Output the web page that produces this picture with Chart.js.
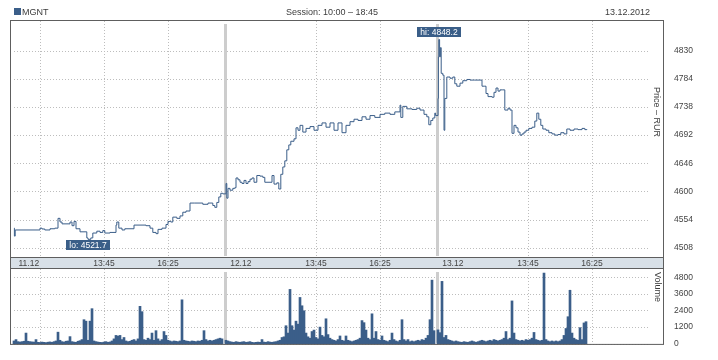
<!DOCTYPE html>
<html><head><meta charset="utf-8">
<script src="https://cdn.jsdelivr.net/npm/chart.js@4.4.1/dist/chart.umd.min.js"></script>
<style>
html,body{margin:0;padding:0;background:#fff;}
#wrap{position:relative;width:718px;height:360px;background:#fff;}
canvas{position:absolute;left:0;top:0;}
</style></head><body>
<div id="wrap"><canvas id="price" width="718" height="360"></canvas><canvas id="vol" width="718" height="360"></canvas></div>
<script>
// ---------- text ----------
const ticker = "MGNT";
const sessionText = "Session: 10:00 – 18:45";
const dateText = "13.12.2012";
const priceAxisTitle = "Price – RUR";
const volumeAxisTitle = "Volume";

// ---------- axis ticks ----------
const dayLabels = ["11.12", "12.12", "13.12"];
const timeTickLabels = ["13:45", "16:25"];
const timeTickMinutes = [225, 385];      // minutes after 10:00
const dayLabelMinute = 37;               // where the date label sits in each day
const extraGridMinute = 65;              // first-day extra grid line
const priceTicks = [4508, 4554, 4600, 4646, 4692, 4738, 4784, 4830];
const volumeTicks = [0, 1200, 2400, 3600, 4800];

// ---------- price series (minutes after 10:00, price) ----------
const day1PriceMin = [0,1,3,65,70,77,90,102,110,115,120,130,140,145,150,155,165,175,182,185,192,197,207,215,222,227,240,255,257,262,270,277,290,300,315,330,340,347,355,360,370,380,385,392,397,407,415,422,430,440,452,465,472,485,497,502,507,512,517,522];
const day1Price    = [4540,4527,4537,4540,4538.6,4537,4539,4540,4556,4550,4547,4547,4550,4544,4551,4539,4534,4534,4524,4521.7,4524,4532,4535,4533,4536,4532,4533,4545,4550,4540,4537,4539,4539,4545,4545,4544,4540,4533,4531,4538,4540,4546,4551,4550,4558,4556,4560,4566,4568,4581,4581,4581,4579,4581,4577,4574,4582,4591,4597,4596];

const day2PriceMin = [0,2,5,10,17,22,25,30,35,40,45,50,55,60,65,70,77,85,92,97,110,115,120,127,132,137,142,147,152,157,162,170,175,180,185,192,200,210,220,230,240,250,260,270,280,290,300,310,320,330,340,350,360,372,385,397,410,422,435,437,442,452,465,477,485,495,502,507,512,517,522,524];
const day2Price    = [4613,4589,4605,4602,4605,4606,4622,4619,4615,4613,4618,4613,4616,4620,4622,4615,4626,4625,4623,4615,4615,4626,4612,4614,4604,4628,4640,4650,4668,4676,4682,4686,4704,4700,4708,4697,4703,4706,4700,4708,4712,4705,4712,4700,4712,4696,4708,4714,4718,4716,4722,4718,4724,4721,4726,4728,4726,4730,4741,4721,4739,4735,4734,4736,4733,4726,4722,4709,4716,4720,4728,4724];

const day3PriceMin = [0,1,2,4,6,8,12,15,17,22,30,37,42,47,55,62,72,80,92,105,110,117,120,125,135,140,145,150,155,162,167,175,180,185,190,195,200,205,210,215,220,227,235,242,247,252,257,262,270,277,285,292,300,307,315,322,330,340,350,360,367,372];
const day3Price    = [4752,4820,4848.2,4820,4835,4793,4790,4700,4752,4787,4785,4787,4776,4772,4777,4781,4783,4782,4782,4782,4772,4772,4760,4755,4754,4762,4769,4764,4766,4766,4733,4736,4733,4695,4708,4704,4697,4692,4694,4697,4700,4703,4705,4715,4728,4718,4708,4702,4700,4696,4694,4692,4693,4696,4694,4702,4700,4702,4701,4703,4701,4702];

// ---------- volume series (one bar per 5-minute slot from 10:00) ----------
const volumeSlotMinutes = 5;
const day1Volume = [200,300,150,120,150,180,770,180,150,130,120,300,100,90,120,100,80,110,130,100,150,200,835,250,150,120,180,200,514,150,120,100,180,220,300,1735,1630,250,1630,2530,200,150,120,100,90,120,150,100,130,200,350,600,550,600,300,450,200,150,180,250,300,200,350,2700,2314,300,250,400,300,770,250,943,350,200,300,880,600,250,200,150,200,180,150,200,3170,250,200,180,150,200,180,150,200,180,250,943,300,200,250,200,250,300,350,400,350];
const day2Volume = [250,200,150,120,100,150,120,100,130,150,100,120,150,100,80,100,120,100,300,120,100,150,120,100,130,150,200,250,450,500,1300,770,3920,1300,985,1630,1414,3340,2740,2380,770,500,400,880,985,450,350,1200,600,500,1800,660,400,300,250,200,300,560,250,200,560,250,200,150,200,250,300,400,1670,1520,985,400,300,2160,400,880,300,250,560,250,200,150,250,770,300,200,150,250,1735,300,200,300,150,200,150,200,250,200,300,250,400,600,1735,4590,943];
const day3Volume = [1000,800,4500,450,600,300,250,200,150,200,150,120,100,150,120,100,150,200,150,100,150,200,250,200,150,200,250,200,300,250,200,250,300,400,880,300,400,3090,770,300,250,200,250,200,300,250,300,400,815,300,250,200,250,5100,300,200,150,200,150,200,150,200,300,600,1100,1950,3860,770,400,300,250,1160,300,1500,1590];

// ---------- layout constants ----------
const daySpan = 530;           // minutes per day slot on the x axis (session + gap)
const xMin = -10, xMax = 1625;
const priceMin = 4491.2, priceMax = 4880.2;
const volMin = -84, volMax = 5465;
const BLUE = '#3b5e89';
const GRID = '#bdbdbd';
const SEP = '#cdcdcd';
const BORDER = '#5e5e5e';
const TXT = '#3c3c3c';
const FONT = "'Liberation Sans', Arial, sans-serif";
const gridRight = 648;

// ---------- build points ----------
const pricePts = [];
[[day1PriceMin, day1Price], [day2PriceMin, day2Price], [day3PriceMin, day3Price]].forEach(([mins, vals], d) => {
  mins.forEach((m, i) => pricePts.push({x: d * daySpan + m, y: vals[i]}));
});
const volPts = [];
[day1Volume, day2Volume, day3Volume].forEach((arr, d) => {
  arr.forEach((v, i) => volPts.push({x: d * daySpan + i * volumeSlotMinutes, y: v}));
});
const bandTicks = [];
const bandLabels = [];
dayLabels.forEach((lab, d) => {
  bandTicks.push(d * daySpan + dayLabelMinute); bandLabels.push(lab);
  timeTickMinutes.forEach((m, j) => { bandTicks.push(d * daySpan + m); bandLabels.push(timeTickLabels[j]); });
});
const vGridMinutes = [extraGridMinute];
dayLabels.forEach((_, d) => timeTickMinutes.forEach(m => vGridMinutes.push(d * daySpan + m)));
const separatorMinutes = [daySpan - 2, 2 * daySpan - 2];

function dotted(ctx, x1, y1, x2, y2) {
  ctx.beginPath(); ctx.moveTo(x1, y1); ctx.lineTo(x2, y2); ctx.stroke();
}
function drawGrid(chart, yTicks) {
  const {ctx, chartArea: a, scales} = chart;
  ctx.save();
  ctx.strokeStyle = GRID; ctx.lineWidth = 1; ctx.setLineDash([1, 2]);
  yTicks.forEach(v => {
    const y = Math.round(scales.y.getPixelForValue(v)) + 0.5;
    dotted(ctx, a.left + 4, y, gridRight, y);
  });
  vGridMinutes.forEach(m => {
    const x = Math.round(scales.x.getPixelForValue(m)) + 0.5;
    dotted(ctx, x, a.top + 1, x, a.bottom - 1);
  });
  ctx.setLineDash([]);
  ctx.fillStyle = SEP;
  separatorMinutes.forEach(m => {
    const x = scales.x.getPixelForValue(m);
    ctx.fillRect(Math.round(x) - 1, a.top + 4, 3, a.bottom - a.top - 6);
  });
  ctx.restore();
}
function drawBorder(chart) {
  const {ctx, chartArea: a} = chart;
  ctx.save();
  ctx.strokeStyle = BORDER; ctx.lineWidth = 1;
  ctx.strokeRect(a.left + 0.5, a.top + 0.5, a.right - a.left - 1, a.bottom - a.top - 1);
  ctx.restore();
}
function rotatedTitle(ctx, text, x, y) {
  ctx.save();
  ctx.translate(x, y); ctx.rotate(Math.PI / 2);
  ctx.fillStyle = TXT; ctx.font = "9px " + FONT;
  ctx.textAlign = 'center'; ctx.textBaseline = 'middle';
  ctx.fillText(text, 0, 0);
  ctx.restore();
}
function tagBox(ctx, text, cx, top) {
  ctx.font = "8.5px " + FONT;
  const w = Math.ceil(ctx.measureText(text).width) + 6;
  ctx.fillStyle = '#3a5e88';
  ctx.fillRect(Math.round(cx - w / 2), top, w, 10);
  ctx.fillStyle = '#ffffff';
  ctx.textAlign = 'center'; ctx.textBaseline = 'middle';
  ctx.fillText(text, Math.round(cx), top + 5.5);
}

const pricePlugin = {
  id: 'priceDecor',
  beforeDraw(chart) {
    const {ctx, chartArea: a} = chart;
    ctx.save();
    ctx.fillStyle = '#d8e0e7';
    ctx.fillRect(a.left, a.bottom, a.right - a.left, 10);
    ctx.restore();
  },
  beforeDatasetsDraw(chart) { drawGrid(chart, priceTicks); },
  afterDatasetsDraw(chart) {
    const {ctx} = chart;
    const pts = chart.getDatasetMeta(0).data;
    let hi = 0, lo = 0;
    pricePts.forEach((p, i) => { if (p.y > pricePts[hi].y) hi = i; if (p.y < pricePts[lo].y) lo = i; });
    ctx.save();
    tagBox(ctx, 'hi: ' + pricePts[hi].y.toFixed(1), pts[hi].x, Math.round(pts[hi].y) - 13);
    tagBox(ctx, 'lo: ' + pricePts[lo].y.toFixed(1), pts[lo].x, Math.round(pts[lo].y) + 1);
    ctx.restore();
  },
  afterDraw(chart) {
    const {ctx, chartArea: a} = chart;
    drawBorder(chart);
    ctx.save();
    ctx.strokeStyle = BORDER; ctx.lineWidth = 1;
    ctx.beginPath(); ctx.moveTo(a.left + 0.5, a.bottom); ctx.lineTo(a.left + 0.5, a.bottom + 10); ctx.stroke();
    ctx.beginPath(); ctx.moveTo(a.right - 0.5, a.bottom); ctx.lineTo(a.right - 0.5, a.bottom + 10); ctx.stroke();
    ctx.fillStyle = BLUE; ctx.fillRect(14, 8, 7, 7);
    ctx.fillStyle = TXT; ctx.font = "9px " + FONT; ctx.textBaseline = 'alphabetic';
    ctx.textAlign = 'left'; ctx.fillText(ticker, 22, 15);
    ctx.textAlign = 'center'; ctx.fillText(sessionText, 332, 15);
    ctx.textAlign = 'right'; ctx.fillText(dateText, 650, 15);
    ctx.restore();
    rotatedTitle(ctx, priceAxisTitle, 656, 112);
  }
};
const volPlugin = {
  id: 'volDecor',
  beforeDatasetsDraw(chart) { drawGrid(chart, volumeTicks); },
  afterDraw(chart) {
    drawBorder(chart);
    rotatedTitle(chart.ctx, volumeAxisTitle, 657, 287);
  }
};

const common = {
  responsive: false, animation: false, devicePixelRatio: 1, events: [],
  plugins: {legend: {display: false}, tooltip: {enabled: false}}
};

new Chart(document.getElementById('price'), {
  type: 'line',
  data: {datasets: [{data: pricePts, borderColor: BLUE, borderWidth: 1, pointRadius: 0, stepped: true, fill: false}]},
  options: Object.assign({}, common, {
    layout: {padding: {left: 10, top: 20, right: 0, bottom: 92}},
    scales: {
      x: {type: 'linear', min: xMin, max: xMax, position: 'bottom', offset: false,
          grid: {display: false, drawTicks: false}, border: {display: false},
          afterBuildTicks: s => { s.ticks = bandTicks.map(v => ({value: v})); },
          afterFit: s => { s.height = 10; },
          ticks: {autoSkip: false, maxRotation: 0, minRotation: 0, padding: 0.5, color: '#444',
                  font: {family: FONT, size: 8.5}, callback: (v, i) => bandLabels[i]}},
      y: {position: 'right', min: priceMin, max: priceMax,
          grid: {display: false, drawTicks: false}, border: {display: false},
          afterBuildTicks: s => { s.ticks = priceTicks.map(v => ({value: v})); },
          afterFit: s => { s.width = 54; },
          ticks: {padding: 10, color: '#444', font: {family: FONT, size: 8.5}, callback: v => String(v)}}
    }
  }),
  plugins: [pricePlugin]
});

new Chart(document.getElementById('vol'), {
  type: 'bar',
  data: {datasets: [{data: volPts, backgroundColor: BLUE, borderWidth: 0, barThickness: 2, grouped: false}]},
  options: Object.assign({}, common, {
    layout: {padding: {left: 10, top: 268, right: 0, bottom: 6}},
    scales: {
      x: {type: 'linear', min: xMin, max: xMax, display: false, offset: false},
      y: {position: 'right', min: volMin, max: volMax,
          grid: {display: false, drawTicks: false}, border: {display: false},
          afterBuildTicks: s => { s.ticks = volumeTicks.map(v => ({value: v})); },
          afterFit: s => { s.width = 54; },
          ticks: {padding: 10, color: '#444', font: {family: FONT, size: 8.5}, callback: v => String(v)}}
    }
  }),
  plugins: [volPlugin]
});
</script>
</body></html>
